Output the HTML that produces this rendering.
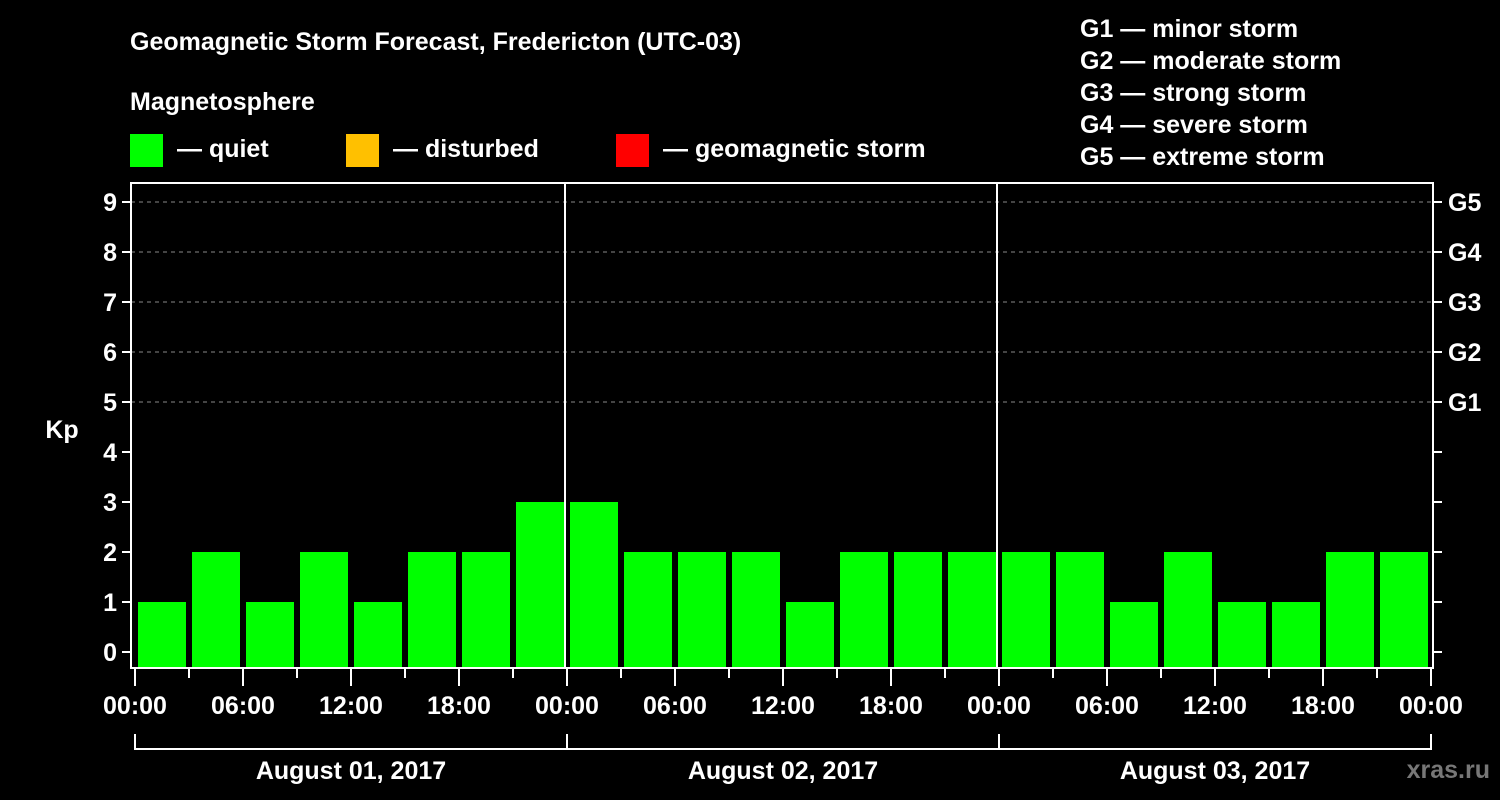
<!DOCTYPE html>
<html><head><meta charset="utf-8"><style>
body{margin:0;background:#000;width:1500px;height:800px;overflow:hidden}
svg{display:block;font-family:"Liberation Sans",sans-serif;font-weight:bold;fill:#fff}
</style></head><body>
<svg id="c" width="1500" height="800">
<text x="130" y="50" font-size="25">Geomagnetic Storm Forecast, Fredericton (UTC-03)</text>
<text x="130" y="110" font-size="25">Magnetosphere</text>
<rect x="130" y="134" width="33" height="33" fill="#00ff00"/>
<text x="177" y="157" font-size="25">— quiet</text>
<rect x="346" y="134" width="33" height="33" fill="#ffc000"/>
<text x="393" y="157" font-size="25">— disturbed</text>
<rect x="616" y="134" width="33" height="33" fill="#ff0000"/>
<text x="663" y="157" font-size="25">— geomagnetic storm</text>
<g font-size="25">
<text x="1080" y="37">G1 — minor storm</text>
<text x="1080" y="69">G2 — moderate storm</text>
<text x="1080" y="101">G3 — strong storm</text>
<text x="1080" y="133">G4 — severe storm</text>
<text x="1080" y="165">G5 — extreme storm</text>
</g>
<text x="62" y="438" font-size="25" text-anchor="middle">Kp</text>
<text x="1490" y="778" font-size="25" text-anchor="end" fill="#777" style="fill:#777">xras.ru</text>
<g id="plot"></g>
</svg>
<script>
const values=[1,2,1,2,1,2,2,3, 3,2,2,2,1,2,2,2, 2,2,1,2,1,1,2,2];
const dates=["August 01, 2017","August 02, 2017","August 03, 2017"];
const hourLabels=["00:00","06:00","12:00","18:00"];
const gLabels=["G1","G2","G3","G4","G5"];
const NS="http://www.w3.org/2000/svg";
const g=document.getElementById('plot');
const L=131,R=1433,T=183,B=668,X0=135,SLOT=54;
const y=v=>652-v*50;
const x=i=>X0+i*SLOT;
function el(t,a){const e=document.createElementNS(NS,t);for(const k in a)e.setAttribute(k,a[k]);g.appendChild(e);return e;}
for(let v=5;v<=9;v++){const e=el('line',{x1:L,x2:R,y1:y(v),y2:y(v),stroke:'#888','stroke-dasharray':'4,4','stroke-width':1});

}
values.forEach((v,i)=>{const e=el('rect',{x:x(i)+3,y:y(v),width:48,height:B-y(v),fill:v>=5?'#ff0000':v>=4?'#ffc000':'#00ff00'});

});
for(let d=1;d<dates.length;d++){const e=el('line',{x1:x(d*8)-2,x2:x(d*8)-2,y1:T,y2:B,stroke:'#fff','stroke-width':2});

}
const fr=el('rect',{x:L,y:T,width:R-L,height:B-T,fill:'none',stroke:'#fff','stroke-width':2});


for(let v=0;v<=9;v++){
el('line',{x1:L-9,x2:L,y1:y(v),y2:y(v),stroke:'#fff','stroke-width':2});
el('line',{x1:R,x2:R+9,y1:y(v),y2:y(v),stroke:'#fff','stroke-width':2});
const t=el('text',{x:L-14,y:y(v)+9,'font-size':25,'text-anchor':'end'});t.textContent=v;

}
gLabels.forEach((s,i)=>{const t=el('text',{x:1448,y:y(i+5)+9,'font-size':25});t.textContent=s;

});
for(let i=0;i<=values.length;i++){
const major=i%2===0;
el('line',{x1:x(i),x2:x(i),y1:B,y2:major?686:678,stroke:'#fff','stroke-width':2});
if(major){const t=el('text',{x:x(i),y:714,'font-size':25,'text-anchor':'middle'});t.textContent=hourLabels[(i/2)%4];

}}
dates.forEach((d,k)=>{
const a=x(k*8),b=x(k*8+8);
el('path',{d:`M${a} 734V749H${b}V734`,stroke:'#fff','stroke-width':2,fill:'none'});
const t=el('text',{x:(a+b)/2,y:779,'font-size':25,'text-anchor':'middle'});t.textContent=d;

});
</script>
</body></html>
